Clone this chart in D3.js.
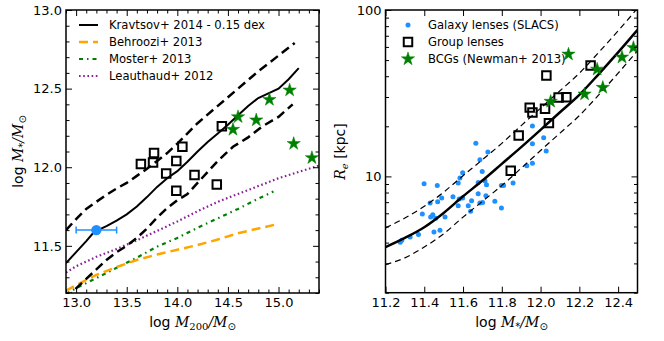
<!DOCTYPE html>
<html>
<head>
<meta charset="utf-8">
<script src="https://cdn.jsdelivr.net/npm/d3@7"></script>
<style>
  body { margin: 0; background: #fff; }
  text { font-family: "DejaVu Sans", sans-serif; }
</style>
</head>
<body>
<svg id="fig" width="664" height="341"></svg>
<script>
// ---- left panel: stellar mass vs halo mass ----
const kravX   = [12.9, 13.0, 13.1, 13.16, 13.2, 13.3, 13.4, 13.5, 13.6, 13.7, 13.8, 13.9, 14.0, 14.1, 14.2, 14.3, 14.4, 14.5, 14.6, 14.7, 14.8, 14.9, 15.0, 15.1, 15.2];
const kravMid = [11.39, 11.46, 11.53, 11.575, 11.595, 11.625, 11.66, 11.70, 11.75, 11.81, 11.875, 11.93, 11.975, 12.035, 12.10, 12.16, 12.215, 12.27, 12.33, 12.39, 12.44, 12.47, 12.50, 12.56, 12.63];
const kravHiX = [12.9, 13.0, 13.1, 13.2, 13.3, 13.4, 13.5, 13.6, 13.7, 13.8, 13.9, 14.0, 14.2, 14.4, 14.6, 14.8, 15.0, 15.16];
const kravHi  = [11.60, 11.67, 11.735, 11.78, 11.825, 11.865, 11.90, 11.945, 11.99, 12.04, 12.09, 12.15, 12.28, 12.39, 12.50, 12.61, 12.71, 12.79];
const kravLoX = [12.9, 13.0, 13.1, 13.2, 13.3, 13.4, 13.5, 13.6, 13.7, 13.8, 13.9, 14.0, 14.1, 14.2, 14.3, 14.4, 14.55, 14.7, 14.84, 15.0, 15.14];
const kravLo  = [11.16, 11.23, 11.29, 11.35, 11.41, 11.46, 11.50, 11.55, 11.61, 11.68, 11.74, 11.79, 11.83, 11.90, 11.97, 12.04, 12.13, 12.19, 12.26, 12.32, 12.40];

const behrX = [12.9, 13.0, 13.2, 13.4, 13.6, 13.8, 14.0, 14.2, 14.4, 14.6, 14.8, 15.0];
const behrY = [11.215, 11.25, 11.315, 11.365, 11.41, 11.445, 11.475, 11.505, 11.54, 11.58, 11.61, 11.64];
const mostX = [12.9, 13.0, 13.2, 13.4, 13.6, 13.8, 14.0, 14.2, 14.4, 14.6, 14.8, 14.95];
const mostY = [11.195, 11.23, 11.295, 11.36, 11.425, 11.495, 11.55, 11.615, 11.675, 11.735, 11.80, 11.845];
const leauX = [12.9, 13.0, 13.2, 13.4, 13.6, 13.8, 14.0, 14.2, 14.4, 14.6, 14.8, 15.0, 15.2, 15.4];
const leauY = [11.33, 11.37, 11.43, 11.48, 11.535, 11.595, 11.655, 11.72, 11.78, 11.83, 11.88, 11.93, 11.97, 12.01];

const grpHalo  = [13.64, 13.76, 13.77, 13.89, 13.99, 13.99, 14.05, 14.17, 14.39, 14.44];
const grpStarL = [12.02, 12.03, 12.09, 11.96, 12.04, 11.85, 12.13, 11.95, 11.89, 12.26];
const bcgHalo  = [14.55, 14.60, 14.78, 14.91, 15.11, 15.15, 15.33];
const bcgStarL = [12.24, 12.32, 12.30, 12.43, 12.49, 12.15, 12.06];
const slacsHalo = 13.2, slacsHaloLo = 13.0, slacsHaloHi = 13.4, slacsStar = 11.6;

const leftLegend = ['Kravtsov+ 2014 - 0.15 dex', 'Behroozi+ 2013', 'Moster+ 2013', 'Leauthaud+ 2012'];

// ---- right panel: size vs stellar mass ----
const galStar = [11.276, 11.284, 11.327, 11.370, 11.390, 11.399, 11.430, 11.433, 11.444, 11.450, 11.459, 11.467, 11.469, 11.481, 11.490, 11.507,
                 11.548, 11.575, 11.584, 11.598, 11.580, 11.575, 11.598, 11.627, 11.639, 11.644, 11.666, 11.687, 11.728, 11.699, 11.678, 11.713,
                 11.721, 11.678, 11.687, 11.701, 11.718, 11.764, 11.798, 11.798, 11.809, 11.858, 11.929, 11.958, 11.958, 11.958, 12.016, 12.029];
const galRe   = [4.02, 4.13, 4.33, 4.47, 5.95, 9.04, 6.92, 5.70, 5.89, 4.64, 5.60, 8.83, 7.05, 4.74, 7.41, 5.70,
                 7.55, 9.12, 9.77, 10.5, 7.32, 6.67, 7.41, 6.67, 6.17, 7.15, 15.8, 12.6, 14.0, 10.7, 9.2, 9.42,
                 8.91, 7.87, 6.92, 6.98, 7.66, 7.08, 6.46, 8.83, 8.83, 9.12, 11.6, 12.0, 20.1, 15.7, 17.1, 14.2];
const grpStarR = [12.030, 12.258, 11.944, 11.958, 12.023, 12.093, 12.133, 12.043, 11.887, 11.846];
const grpRe    = [40.4, 46.4, 25.9, 24.2, 25.5, 29.8, 29.9, 20.9, 17.6, 10.8];
const bcgStarR = [12.144, 12.292, 12.420, 12.479, 12.227, 12.321, 12.052];
const bcgRe    = [54.2, 44.0, 52.0, 59.4, 31.2, 34.2, 28.2];

const fitStar = [11.2, 11.3, 11.4, 11.5, 11.6, 11.7, 11.8, 11.9, 12.0, 12.1, 12.2, 12.3, 12.4, 12.5];
const fitRe   = [3.76, 4.27, 4.95, 6.03, 7.59, 9.44, 11.9, 15.0, 19.05, 24.3, 30.9, 41.2, 55.6, 75.9];
const fitReHi = [4.90, 5.62, 6.61, 8.04, 10.1, 12.6, 15.8, 20.2, 25.7, 32.7, 41.7, 55.6, 75.0, 102.3];
const fitReLo = [2.95, 3.24, 3.76, 4.52, 5.69, 7.08, 8.81, 11.2, 14.3, 18.2, 23.2, 30.9, 41.7, 56.9];

const rightLegend = ['Galaxy lenses (SLACS)', 'Group lenses', 'BCGs (Newman+ 2013)'];

const zip = (xs, ys) => xs.map((x, i) => ({x, y: ys[i]}));

const svg = d3.select('#fig');
svg.append('rect').attr('width', 664).attr('height', 341).attr('fill', '#fff');

const purple = '#8a1f98';
const green = '#008000';
const blue = '#1e90ff';

// scales
const xL = d3.scaleLinear().domain([12.9, 15.4]).range([66, 319]);
const yL = d3.scaleLinear().domain([11.2, 13.0]).range([293, 10]);
const xR = d3.scaleLinear().domain([11.2, 12.5]).range([385.5, 637.5]);
const yR = d3.scaleLog().domain([2, 100]).range([292.7, 10]);

const defs = svg.append('defs');
defs.append('clipPath').attr('id', 'clipL').append('rect')
  .attr('x', 66).attr('y', 10).attr('width', 253).attr('height', 283);
defs.append('clipPath').attr('id', 'clipR').append('rect')
  .attr('x', 385.5).attr('y', 10).attr('width', 252).attr('height', 282.7);

// draws inward ticks on all four sides
function frame(x, y, major, minor, majorY, minorY, fmtX, fmtY) {
  const [x0, x1] = x.range();
  const [y1, y0] = y.range();
  const g = svg.append('g');
  const tick = (axis, tr, vals, size, fmt) => {
    const a = axis.tickValues(vals).tickSize(-size).tickPadding(fmt ? 5 : 0)
      .tickFormat(fmt || (() => ''));
    const ag = g.append('g').attr('transform', tr).call(a);
    ag.select('.domain').remove();
    ag.selectAll('line').attr('stroke', '#000').attr('stroke-width', 1);
    ag.selectAll('text').attr('font-size', 13).attr('fill', '#000')
      .style('font-family', '"DejaVu Sans", sans-serif');
    return ag;
  };
  tick(d3.axisBottom(x), `translate(0,${y1})`, major, 6, fmtX);
  tick(d3.axisBottom(x), `translate(0,${y1})`, minor, 3.5);
  tick(d3.axisTop(x), `translate(0,${y0})`, major, 6);
  tick(d3.axisTop(x), `translate(0,${y0})`, minor, 3.5);
  const ly = tick(d3.axisLeft(y), `translate(${x0},0)`, majorY, 6, fmtY);
  ly.selectAll('text').attr('x', -4);
  tick(d3.axisLeft(y), `translate(${x0},0)`, minorY, 3.5);
  tick(d3.axisRight(y), `translate(${x1},0)`, majorY, 6);
  tick(d3.axisRight(y), `translate(${x1},0)`, minorY, 3.5);
  g.append('rect').attr('x', x0).attr('y', y0).attr('width', x1 - x0).attr('height', y1 - y0)
    .attr('fill', 'none').attr('stroke', '#000').attr('stroke-width', 1.5);
}

// ============ LEFT PANEL ============
const lineL = d3.line().x(d => xL(d.x)).y(d => yL(d.y));
const gL = svg.append('g').attr('clip-path', 'url(#clipL)');

gL.append('path').datum(zip(leauX, leauY)).attr('d', lineL)
  .attr('fill', 'none').attr('stroke', purple).attr('stroke-width', 2.2).attr('stroke-dasharray', '1.6,2.6');
gL.append('path').datum(zip(mostX, mostY)).attr('d', lineL)
  .attr('fill', 'none').attr('stroke', green).attr('stroke-width', 2.2).attr('stroke-dasharray', '4,4,1.5,4');
gL.append('path').datum(zip(behrX, behrY)).attr('d', lineL)
  .attr('fill', 'none').attr('stroke', 'orange').attr('stroke-width', 2.5).attr('stroke-dasharray', '9,5');
gL.append('path').datum(zip(kravHiX, kravHi)).attr('d', lineL)
  .attr('fill', 'none').attr('stroke', '#000').attr('stroke-width', 2.5).attr('stroke-dasharray', '9,5');
gL.append('path').datum(zip(kravLoX, kravLo)).attr('d', lineL)
  .attr('fill', 'none').attr('stroke', '#000').attr('stroke-width', 2.5).attr('stroke-dasharray', '9,5');
gL.append('path').datum(zip(kravX, kravMid)).attr('d', lineL)
  .attr('fill', 'none').attr('stroke', '#000').attr('stroke-width', 2);

// stacked SLACS point with x error bar
const eb = gL.append('g');
eb.append('line').attr('x1', xL(slacsHaloLo)).attr('x2', xL(slacsHaloHi))
  .attr('y1', yL(slacsStar)).attr('y2', yL(slacsStar)).attr('stroke', blue).attr('stroke-width', 1.5);
[slacsHaloLo, slacsHaloHi].forEach(v => eb.append('line')
  .attr('x1', xL(v)).attr('x2', xL(v)).attr('y1', yL(slacsStar) - 3.5).attr('y2', yL(slacsStar) + 3.5)
  .attr('stroke', blue).attr('stroke-width', 1.5));
eb.append('circle').attr('cx', xL(slacsHalo)).attr('cy', yL(slacsStar)).attr('r', 5.2).attr('fill', blue);

const square = d3.symbol(d3.symbolSquare, 72);
const star = d3.symbol(d3.symbolStar, 55);

gL.selectAll('.sqL').data(zip(grpHalo, grpStarL)).join('path')
  .attr('d', square).attr('transform', d => `translate(${xL(d.x)},${yL(d.y)})`)
  .attr('fill', 'none').attr('stroke', '#000').attr('stroke-width', 2);
gL.selectAll('.stL').data(zip(bcgHalo, bcgStarL)).join('path')
  .attr('d', star).attr('transform', d => `translate(${xL(d.x)},${yL(d.y)})`)
  .attr('fill', green).attr('stroke', green).attr('stroke-width', 0.5);

frame(xL, yL,
  [13.0, 13.5, 14.0, 14.5, 15.0], d3.range(129, 155).map(v => v / 10).filter(v => Math.round(v * 10) % 5 !== 0),
  [11.5, 12.0, 12.5, 13.0], d3.range(112, 131).map(v => v / 10).filter(v => Math.round(v * 10) % 5 !== 0),
  d3.format('.1f'), d3.format('.1f'));

// legend (left)
const legL = svg.append('g');
const legStyles = [
  {stroke: '#000', w: 2, dash: null},
  {stroke: 'orange', w: 2.5, dash: '9,5'},
  {stroke: green, w: 2.2, dash: '4,4,1.5,4'},
  {stroke: purple, w: 2.2, dash: '1.6,2.6'}
];
leftLegend.forEach((t, i) => {
  const yy = 25 + i * 17;
  const s = legStyles[i];
  legL.append('line').attr('x1', 79).attr('x2', 98).attr('y1', yy).attr('y2', yy)
    .attr('stroke', s.stroke).attr('stroke-width', s.w).attr('stroke-dasharray', s.dash);
  legL.append('text').attr('x', 109).attr('y', yy + 4.3).attr('font-size', 11.6).text(t);
});

// axis labels (left)
const xlabL = svg.append('text').attr('x', 192.5).attr('y', 327).attr('text-anchor', 'middle').attr('font-size', 14);
xlabL.append('tspan').text('log ');
xlabL.append('tspan').attr('font-family', '"DejaVu Serif", serif').attr('font-style', 'italic').text('M');
xlabL.append('tspan').attr('font-size', 10).attr('dy', 3).attr('font-family', '"DejaVu Serif", serif').text('200');
xlabL.append('tspan').attr('dy', -3).attr('font-family', '"DejaVu Serif", serif').attr('font-style', 'italic').text('/M');
xlabL.append('tspan').attr('font-size', 10).attr('dy', 3).text('⊙');

const ylabL = svg.append('text').attr('transform', 'translate(23,151.5) rotate(-90)')
  .attr('text-anchor', 'middle').attr('font-size', 14);
ylabL.append('tspan').text('log ');
ylabL.append('tspan').attr('font-family', '"DejaVu Serif", serif').attr('font-style', 'italic').text('M');
ylabL.append('tspan').attr('font-size', 10).attr('dy', 3).text('*');
ylabL.append('tspan').attr('dy', -3).attr('font-family', '"DejaVu Serif", serif').attr('font-style', 'italic').text('/M');
ylabL.append('tspan').attr('font-size', 10).attr('dy', 3).text('⊙');

// ============ RIGHT PANEL ============
const lineR = d3.line().x(d => xR(d.x)).y(d => yR(d.y)).curve(d3.curveMonotoneX);
const gR = svg.append('g').attr('clip-path', 'url(#clipR)');

gR.selectAll('.gal').data(zip(galStar, galRe)).join('circle')
  .attr('cx', d => xR(d.x)).attr('cy', d => yR(d.y)).attr('r', 2.5).attr('fill', blue);

gR.append('path').datum(zip(fitStar, fitReHi)).attr('d', lineR)
  .attr('fill', 'none').attr('stroke', '#000').attr('stroke-width', 1.2).attr('stroke-dasharray', '6,4');
gR.append('path').datum(zip(fitStar, fitReLo)).attr('d', lineR)
  .attr('fill', 'none').attr('stroke', '#000').attr('stroke-width', 1.2).attr('stroke-dasharray', '6,4');
gR.append('path').datum(zip(fitStar, fitRe)).attr('d', lineR)
  .attr('fill', 'none').attr('stroke', '#000').attr('stroke-width', 2.5);

gR.selectAll('.sqR').data(zip(grpStarR, grpRe)).join('path')
  .attr('d', square).attr('transform', d => `translate(${xR(d.x)},${yR(d.y)})`)
  .attr('fill', 'none').attr('stroke', '#000').attr('stroke-width', 2);
gR.selectAll('.stR').data(zip(bcgStarR, bcgRe)).join('path')
  .attr('d', star).attr('transform', d => `translate(${xR(d.x)},${yR(d.y)})`)
  .attr('fill', green).attr('stroke', green).attr('stroke-width', 0.5);

frame(xR, yR,
  [11.2, 11.4, 11.6, 11.8, 12.0, 12.2, 12.4], [],
  [10, 100], [2, 3, 4, 5, 6, 7, 8, 9, 20, 30, 40, 50, 60, 70, 80, 90],
  d3.format('.1f'), d3.format('d'));

// legend (right)
const legR = svg.append('g');
legR.append('circle').attr('cx', 408).attr('cy', 25).attr('r', 2.5).attr('fill', blue);
legR.append('path').attr('d', square).attr('transform', 'translate(408,42)')
  .attr('fill', 'none').attr('stroke', '#000').attr('stroke-width', 2);
legR.append('path').attr('d', star).attr('transform', 'translate(408,59)')
  .attr('fill', green).attr('stroke', green).attr('stroke-width', 0.5);
rightLegend.forEach((t, i) => {
  legR.append('text').attr('x', 428).attr('y', 25 + i * 17 + 4.3).attr('font-size', 11.6).text(t);
});

// axis labels (right)
const xlabR = svg.append('text').attr('x', 511.5).attr('y', 327).attr('text-anchor', 'middle').attr('font-size', 14);
xlabR.append('tspan').text('log ');
xlabR.append('tspan').attr('font-family', '"DejaVu Serif", serif').attr('font-style', 'italic').text('M');
xlabR.append('tspan').attr('font-size', 10).attr('dy', 3).text('*');
xlabR.append('tspan').attr('dy', -3).attr('font-family', '"DejaVu Serif", serif').attr('font-style', 'italic').text('/M');
xlabR.append('tspan').attr('font-size', 10).attr('dy', 3).text('⊙');

const ylabR = svg.append('text').attr('transform', 'translate(345,151.5) rotate(-90)')
  .attr('text-anchor', 'middle').attr('font-size', 14);
ylabR.append('tspan').attr('font-family', '"DejaVu Serif", serif').attr('font-style', 'italic').text('R');
ylabR.append('tspan').attr('font-size', 10).attr('dy', 3).attr('font-family', '"DejaVu Serif", serif').attr('font-style', 'italic').text('e');
ylabR.append('tspan').attr('dy', -3).text(' [kpc]');
</script>
</body>
</html>
